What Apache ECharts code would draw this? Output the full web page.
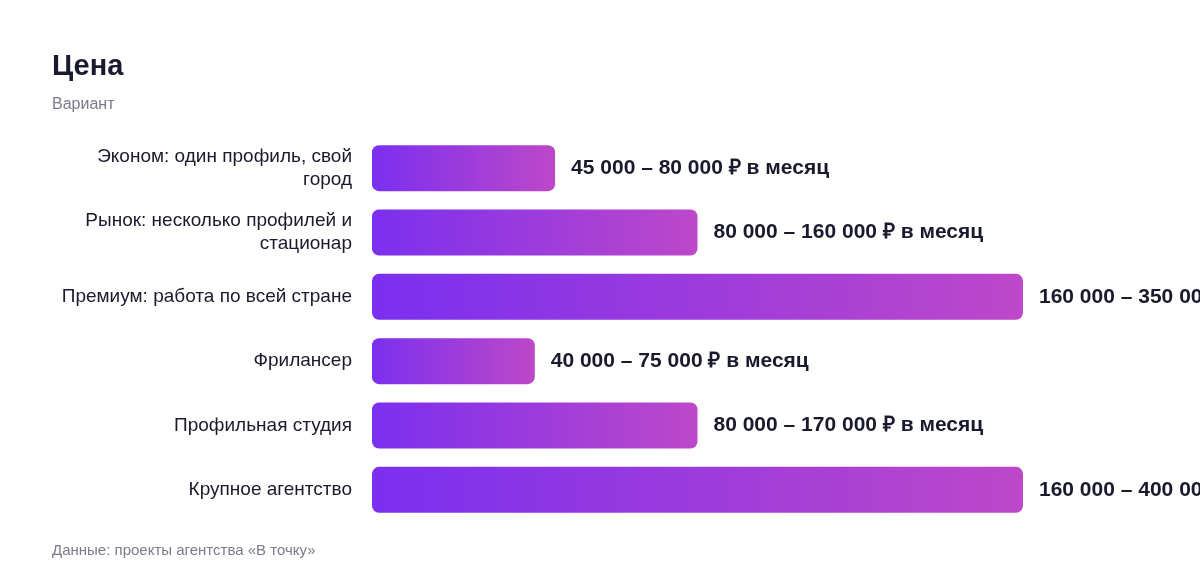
<!DOCTYPE html>
<html><head><meta charset="utf-8">
<script src="https://cdn.jsdelivr.net/npm/echarts@6/dist/echarts.min.js"></script>
<style>html,body{margin:0;padding:0;background:#fff}#c{width:1200px;height:584px}</style>
</head><body><div id="c"></div>
<script>
const categories = ['Эконом: один профиль, свой\nгород','Рынок: несколько профилей и\nстационар','Премиум: работа по всей стране','Фрилансер','Профильная студия','Крупное агентство'];
const lowValues = [45000, 80000, 160000, 40000, 80000, 160000];
const highValues = [80000, 160000, 350000, 75000, 170000, 400000];
const titleText = 'Цена';
const subtitleText = 'Вариант';
const sourceText = 'Данные: проекты агентства «В точку»';

const FONT = '"Liberation Sans", Arial, sans-serif';
const fmt = v => String(v).replace(/\B(?=(\d{3})+(?!\d))/g, ' ');
const chart = echarts.init(document.getElementById('c'));
chart.setOption({
  backgroundColor: '#fff',
  animation: false,
  title: [
    {text: titleText, left: 52, top: 52, padding: 0, textStyle: {fontFamily: FONT, fontSize: 29, fontWeight: 'bold', color: '#1a1a2e'}},
    {text: subtitleText, left: 52, top: 97, padding: 0, textStyle: {fontFamily: FONT, fontSize: 16, fontWeight: 'normal', color: '#7a7a8c'}},
    {text: sourceText, left: 52, top: 543, padding: 0, textStyle: {fontFamily: FONT, fontSize: 15, fontWeight: 'normal', color: '#7a7a8c'}}
  ],
  grid: {left: 372, right: 177, top: 136, bottom: 62, containLabel: false},
  xAxis: {type: 'value', min: 0, max: 160000, show: false},
  yAxis: {
    type: 'category', data: categories, inverse: true,
    axisLine: {show: false}, axisTick: {show: false}, splitLine: {show: false},
    axisLabel: {margin: 20, align: 'right', fontFamily: FONT, fontSize: 19, lineHeight: 23, color: '#1a1a2e'}
  },
  series: [{
    type: 'bar', data: lowValues, barWidth: 46,
    itemStyle: {
      borderRadius: 7,
      color: new echarts.graphic.LinearGradient(0, 0, 1, 0, [{offset: 0, color: '#7b2fef'}, {offset: 1, color: '#bd48c9'}])
    },
    label: {
      show: true, position: 'right', distance: 16,
      fontFamily: FONT, fontSize: 21, fontWeight: 'bold', color: '#1a1a2e',
      formatter: p => fmt(lowValues[p.dataIndex]) + ' – ' + fmt(highValues[p.dataIndex]) + ' ₽ в месяц'
    }
  }]
});
</script></body></html>
